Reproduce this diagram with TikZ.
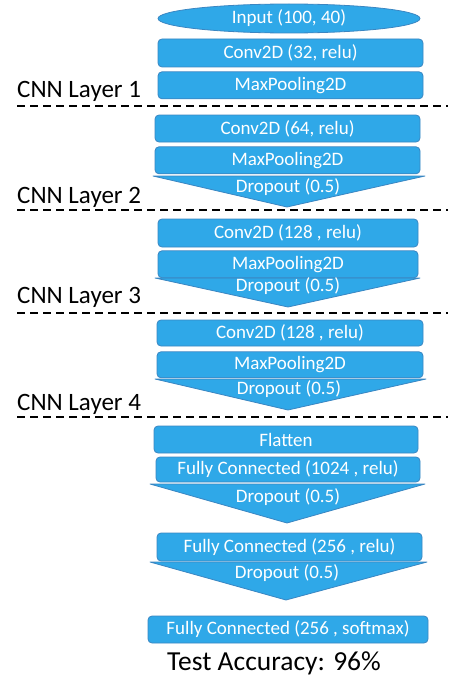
\documentclass[tikz,border=0pt]{standalone}
\usepackage{fontspec}
\setmainfont{Carlito}
\usetikzlibrary{positioning, shapes.geometric}
\definecolor{boxblue}{HTML}{2FA8E8}
\definecolor{edgeblue}{HTML}{3A86C2}

\begin{document}
\begin{tikzpicture}[
        x=1pt, y=-1pt,
        node distance=4pt,
        layerbox/.style={rectangle, rounded corners=4pt, draw=edgeblue, fill=boxblue, text=white, line width=0.8pt, minimum width=265pt, minimum height=27pt, inner sep=0pt, font=\fontsize{19}{22}\selectfont},
        inputbox/.style={ellipse, draw=edgeblue, fill=boxblue, text=white, line width=0.8pt, minimum width=262pt, minimum height=29pt, inner sep=0pt, font=\fontsize{19}{22}\selectfont},
        dropshape/.style={fill=boxblue, draw=edgeblue, line width=0.8pt, line join=round},
        droplabel/.style={text=white, inner sep=0pt, font=\fontsize{19}{22}\selectfont},
        layertag/.style={anchor=base west, inner sep=0pt, font=\fontsize{25}{28}\selectfont},
        sepline/.style={dash pattern=on 8pt off 5pt, line width=1.4pt}
    ]
        \useasboundingbox (0,0) rectangle (448,677);

        % dropout wedges sit behind the boxes above them
        \filldraw[dropshape] (153,176) -- (425,176) -- (287,207) -- cycle;
        \filldraw[dropshape] (155,278) -- (420,278) -- (288,307) -- cycle;
        \filldraw[dropshape] (155,379) -- (426,379) -- (288,410) -- cycle;
        \filldraw[dropshape] (150,484) -- (425,484) -- (287,523) -- cycle;
        \filldraw[dropshape] (150,562) -- (427,562) -- (286,600) -- cycle;

        \node[inputbox] (input) at (289,18.5) {Input (100, 40)};

        % CNN layer 1
        \node[layerbox, minimum height=28pt] (conva) at (290.5,53) {Conv2D (32, relu)};
        \node[layerbox, below=4pt of conva] (poola) {MaxPooling2D};
        \node[layertag] (taga) at (17,97) {CNN Layer 1};
        \coordinate (sepaL) at (17,106);
        \coordinate (sepaR) at (448,106);
        \draw[sepline] (sepaL) -- (sepaR);

        % CNN layer 2
        \node[layerbox] (convb) at (287.5,128.5) {Conv2D (64, relu)};
        \node[layerbox, below=4pt of convb] (poolb) {MaxPooling2D};
        \node[droplabel] (dropb) at (288,187) {Dropout (0.5)};
        \node[layertag] (tagb) at (17,203) {CNN Layer 2};
        \coordinate (sepbL) at (17,210);
        \coordinate (sepbR) at (448,210);
        \draw[sepline] (sepbL) -- (sepbR);

        % CNN layer 3
        \node[layerbox, minimum width=260pt, minimum height=28pt] (convc) at (288,233) {Conv2D (128 , relu)};
        \node[layerbox, minimum width=260pt, below=3pt of convc] (poolc) {MaxPooling2D};
        \node[droplabel] (dropc) at (288,286) {Dropout (0.5)};
        \node[layertag] (tagc) at (17,303) {CNN Layer 3};
        \coordinate (sepcL) at (17,313);
        \coordinate (sepcR) at (448,313);
        \draw[sepline] (sepcL) -- (sepcR);

        % CNN layer 4
        \node[layerbox, minimum width=266pt, minimum height=26pt] (convd) at (290,333) {Conv2D (128 , relu)};
        \node[layerbox, minimum width=266pt, minimum height=26pt, below=5pt of convd] (poold) {MaxPooling2D};
        \node[droplabel] (dropd) at (289,389) {Dropout (0.5)};
        \node[layertag] (tagd) at (17,410) {CNN Layer 4};
        \coordinate (sepdL) at (17,417);
        \coordinate (sepdR) at (448,417);
        \draw[sepline] (sepdL) -- (sepdR);

        % dense part
        \node[layerbox, minimum width=264pt] (flat) at (286,439.5) {Flatten};
        \node[layerbox, minimum width=264pt, minimum height=25pt] (fca) at (288,469.5) {Fully Connected (1024 , relu)};
        \node[droplabel] (drope) at (288,497) {Dropout (0.5)};
        \node[layerbox, minimum height=28pt] (fcb) at (289.5,547) {Fully Connected (256 , relu)};
        \node[droplabel] (dropf) at (287,573) {Dropout (0.5)};
        \node[layerbox, minimum width=280pt] (fcc) at (288,629.5) {Fully Connected (256 , softmax)};
        \node[inner sep=0pt, font=\fontsize{27.5}{30}\selectfont] (acc) at (274,663) {Test Accuracy: 96\%};
    \end{tikzpicture}
\end{document}
